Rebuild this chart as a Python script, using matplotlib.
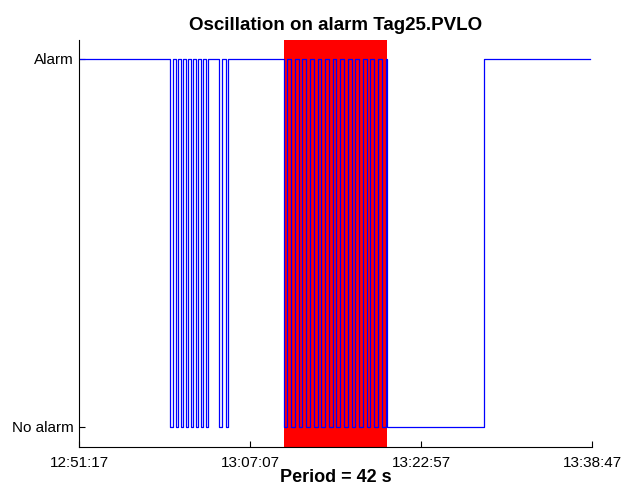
import matplotlib
matplotlib.use("Agg")
import matplotlib.pyplot as plt

plt.rcParams['font.family'] = ['Liberation Sans', 'DejaVu Sans']

# seconds after 12:51:17 at which the alarm state changes (1 = Alarm, 0 = No alarm)
burst1_times = [0, 507, 524, 539, 552, 565, 579, 593, 607, 621, 635, 648, 663,
                676, 690, 704, 718, 779, 793, 817, 829]
burst2_times = [1136, 1157, 1178, 1199, 1220, 1241, 1262, 1283, 1304, 1325,
                1346, 1367, 1388, 1409, 1430, 1451, 1472, 1493, 1514, 1535,
                1556, 1577, 1598, 1619, 1640, 1661, 1682, 1703, 1712]
tail_times = [2250, 2839]

# state entered at each change time
burst1_states = [1, 0, 1, 0, 1, 0, 1, 0, 1, 0, 1, 0, 1, 0, 1, 0, 1, 0, 1, 0, 1]
burst2_states = [0, 1, 0, 1, 0, 1, 0, 1, 0, 1, 0, 1, 0, 1, 0, 1, 0, 1, 0, 1,
                 0, 1, 0, 1, 0, 1, 0, 1, 0]
tail_states = [1, 1]

# detected oscillation window
osc_start = 1138
osc_end = 1708

x_ticks = [0, 950, 1900, 2850]
x_labels = ['12:51:17', '13:07:07', '13:22:57', '13:38:47']
y_labels = ['No alarm', 'Alarm']

times = burst1_times + burst2_times + tail_times
states = burst1_states + burst2_states + tail_states

fig = plt.figure(figsize=(6.22, 4.86), dpi=100)
ax = fig.add_axes([0.127, 0.080, 0.825, 0.838])

ax.axvspan(osc_start, osc_end, color='#ff0000', lw=0, zorder=1)
ax.plot(times, states, drawstyle='steps-post', color='#0000ff', lw=0.9, zorder=2)

ax.set_xlim(0, 2850)
ax.set_ylim(-0.055, 1.052)
ax.set_xticks(x_ticks)
ax.set_xticklabels(x_labels, fontsize=11)
ax.set_yticks([0, 1])
ax.set_yticklabels(y_labels, fontsize=11)
ax.tick_params(direction='in', length=4, width=0.8)
ax.tick_params(axis='x', pad=6.5)
ax.tick_params(axis='y', pad=4)
ax.spines['top'].set_visible(False)
ax.spines['right'].set_visible(False)

ax.set_title('Oscillation on alarm Tag25.PVLO', fontsize=13.5, fontweight='bold', pad=7)
ax.set_xlabel('Period = 42 s', fontsize=13, fontweight='bold', va='center')
ax.xaxis.set_label_coords(0.5, -0.074)

fig.savefig('out.png', dpi=100)
